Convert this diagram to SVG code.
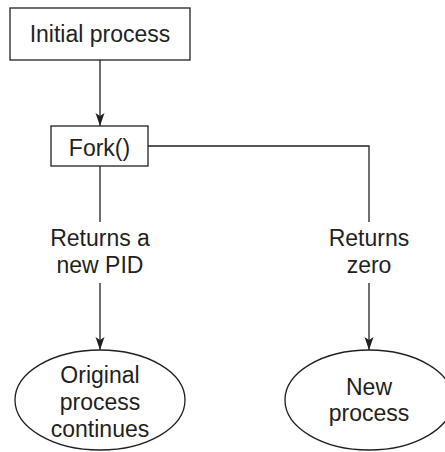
<svg xmlns="http://www.w3.org/2000/svg" width="445" height="452" viewBox="0 0 445 452">
<defs>
<marker id="ah" markerWidth="14" markerHeight="10" refX="13" refY="5" orient="auto" markerUnits="userSpaceOnUse">
<path d="M0,0.5 L13,5 L0,9.5 L3,5 Z" fill="#231f20"/>
</marker>
<style>
.box{fill:#fff;stroke:#231f20;stroke-width:1.3}
.ln{fill:none;stroke:#231f20;stroke-width:1.3}
.t{font-family:"Liberation Sans",Arial,sans-serif;font-size:23px;fill:#231f20;text-anchor:middle}
</style>
</defs>
<rect width="445" height="452" fill="#fff"/>
<g id="connectors">
<path class="ln" d="M100,60 V126" marker-end="url(#ah)"/>
<path class="ln" d="M100,166 V222"/>
<path class="ln" d="M100,283 V350" marker-end="url(#ah)"/>
<path class="ln" d="M148,146 H369 V222"/>
<path class="ln" d="M369,283 V350" marker-end="url(#ah)"/>
</g>
<g id="initial">
<rect class="box" x="10" y="8" width="180" height="52"/>
<text class="t" x="100" y="42">Initial process</text>
</g>
<g id="fork">
<rect class="box" x="51" y="126" width="97" height="40"/>
<text class="t" x="99.5" y="156">Fork()</text>
</g>
<g id="label-pid">
<text class="t" x="100" y="246">Returns a</text>
<text class="t" x="100" y="273">new PID</text>
</g>
<g id="label-zero">
<text class="t" x="369" y="246">Returns</text>
<text class="t" x="369" y="273">zero</text>
</g>
<g id="original">
<ellipse class="box" cx="100" cy="400" rx="85" ry="50"/>
<text class="t" x="100" y="383">Original</text>
<text class="t" x="100" y="410">process</text>
<text class="t" x="100" y="437">continues</text>
</g>
<g id="new">
<ellipse class="box" cx="369" cy="400" rx="84" ry="50"/>
<text class="t" x="369" y="395">New</text>
<text class="t" x="369" y="421">process</text>
</g>
</svg>
